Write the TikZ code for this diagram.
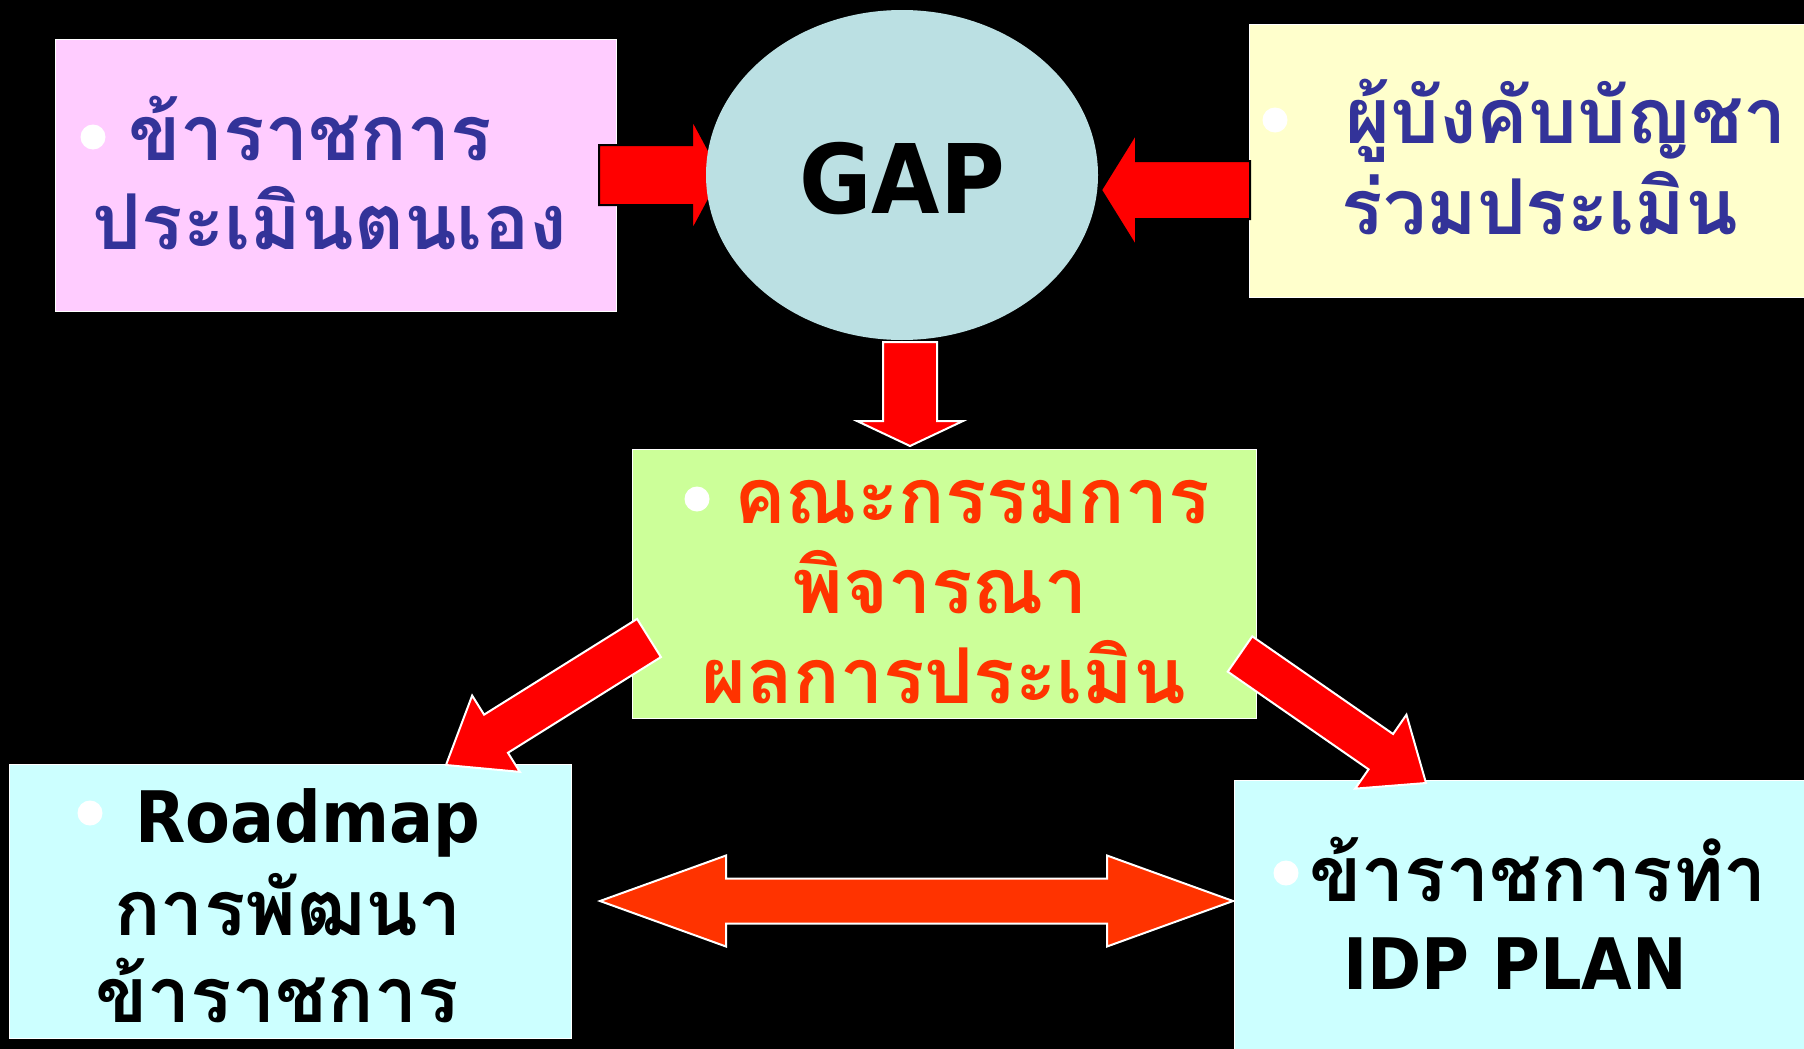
\documentclass[tikz,border=0pt]{standalone}
\usepackage{fontspec}
\newfontfamily\thaifont[Script=Thai]{Loma}
\newfontfamily\latinfont[FakeStretch=0.92]{DejaVu Sans}
\usetikzlibrary{calc}

\definecolor{selfpink}{HTML}{FFCCFF}
\definecolor{bossyellow}{HTML}{FFFFCC}
\definecolor{gapblue}{HTML}{BBE0E3}
\definecolor{boardgreen}{HTML}{CCFF99}
\definecolor{plancyan}{HTML}{CCFFFF}
\definecolor{textblue}{HTML}{333399}
\definecolor{textorange}{HTML}{FF3300}
\definecolor{arrowred}{HTML}{FF0000}

\tikzset{
  thai/.style={inner sep=0pt, anchor=base, font=\thaifont\bfseries\fontsize{38.5}{42}\selectfont},
  latin/.style={inner sep=0pt, anchor=base, font=\latinfont\bfseries\fontsize{35.5}{40}\selectfont},
  bul/.style={circle, fill=white, inner sep=0pt, minimum size=12.5pt},
  box/.style={draw=white, line width=0.5pt},
  redarrow/.style={fill=arrowred, draw=white, line width=1pt, line join=miter},
}

% tail, tip, half shaft, half head, head length
\newcommand{\blockarrow}[6]{%
  \coordinate (ba-hb) at ($(#3)!#6!(#2)$);
  \draw[#1] ($(#2)!#4!90:(#3)$) -- ($(ba-hb)!#4!90:(#3)$) -- ($(ba-hb)!#5!90:(#3)$)
    -- (#3) -- ($(ba-hb)!#5!-90:(#3)$) -- ($(ba-hb)!#4!-90:(#3)$) -- ($(#2)!#4!-90:(#3)$) -- cycle;
}
\newcommand{\dblarrow}[6]{%
  \coordinate (da-l) at ($(#2)!#6!(#3)$);
  \coordinate (da-r) at ($(#3)!#6!(#2)$);
  \draw[#1] (#2) -- ($(da-l)!#5!90:(#3)$) -- ($(da-l)!#4!90:(#3)$) -- ($(da-r)!#4!-90:(#2)$)
    -- ($(da-r)!#5!-90:(#2)$) -- (#3) -- ($(da-r)!#5!90:(#2)$) -- ($(da-r)!#4!90:(#2)$)
    -- ($(da-l)!#4!-90:(#3)$) -- ($(da-l)!#5!-90:(#3)$) -- cycle;
}

\begin{document}
\begin{tikzpicture}[x=0.5pt,y=-0.5pt]
\fill[black] (0,0) rectangle (1804,1049);
\useasboundingbox (0,0) rectangle (1804,1049);

% boxes
\filldraw[box, fill=selfpink] (55,39) rectangle (616,311);
\filldraw[box, fill=bossyellow] (1249,24) rectangle (1812,297);
\filldraw[box, fill=boardgreen] (632,449) rectangle (1256,718);
\filldraw[box, fill=plancyan] (9,764) rectangle (571,1038);
\filldraw[box, fill=plancyan] (1234,780) rectangle (1812,1057);

% arrow ends
\coordinate (selfTail) at (599,175);
\coordinate (selfTip) at (722,175);
\coordinate (bossTail) at (1250,190);
\coordinate (bossTip) at (1101,190);
\coordinate (gapTail) at (910,342);
\coordinate (gapTip) at (910,446);
\coordinate (leftTail) at (649,638);
\coordinate (leftTip) at (446,765);
\coordinate (rightTail) at (1240,654);
\coordinate (rightTip) at (1426,783);
\coordinate (roadEnd) at (600,901);
\coordinate (idpEnd) at (1233,901);

\blockarrow{redarrow, draw=black}{selfTail}{selfTip}{15pt}{28pt}{15pt}

% the gap
\fill[gapblue] (902,175) ellipse [x radius=196, y radius=165];
\node[latin, font=\latinfont\bfseries\fontsize{48}{50}\selectfont] (gap) at (902,213) {GAP};

\blockarrow{redarrow, draw=black}{bossTail}{bossTip}{14.5pt}{28.25pt}{17.5pt}
\blockarrow{redarrow}{gapTail}{gapTip}{13.5pt}{26.5pt}{12.5pt}
\blockarrow{redarrow}{leftTail}{leftTip}{11.25pt}{22.5pt}{29.5pt}
\blockarrow{redarrow}{rightTail}{rightTip}{10.75pt}{22.5pt}{27.5pt}
\dblarrow{redarrow, fill=textorange}{roadEnd}{idpEnd}{11.25pt}{22.75pt}{63pt}

% bullets
\node[bul] (b1) at (93,137) {};
\node[bul] (b2) at (1275,120) {};
\node[bul] (b3) at (697,499) {};
\node[bul] (b4) at (90,813) {};
\node[bul] (b5) at (1286,873) {};

% texts
\node[thai, textblue] (self1) at (310,160) {ข้าราชการ};
\node[thai, textblue] (self2) at (330,249) {ประเมินตนเอง};
\node[thai, textblue] (boss1) at (1566,143) {ผู้บังคับบัญชา};
\node[thai, textblue] (boss2) at (1540,234) {ร่วมประเมิน};
\node[thai, textorange] (board1) at (972,523) {คณะกรรมการ};
\node[thai, textorange] (board2) at (940,613) {พิจารณา};
\node[thai, textorange] (board3) at (944,703) {ผลการประเมิน};
\node[latin] (road1) at (308,842) {Roadmap};
\node[thai] (road2) at (288,935) {การพัฒนา};
\node[thai] (road3) at (277,1022) {ข้าราชการ};
\node[thai] (idp1) at (1538,901) {ข้าราชการทำ};
\node[latin] (idp2) at (1515,989) {IDP PLAN};
\end{tikzpicture}
\end{document}
